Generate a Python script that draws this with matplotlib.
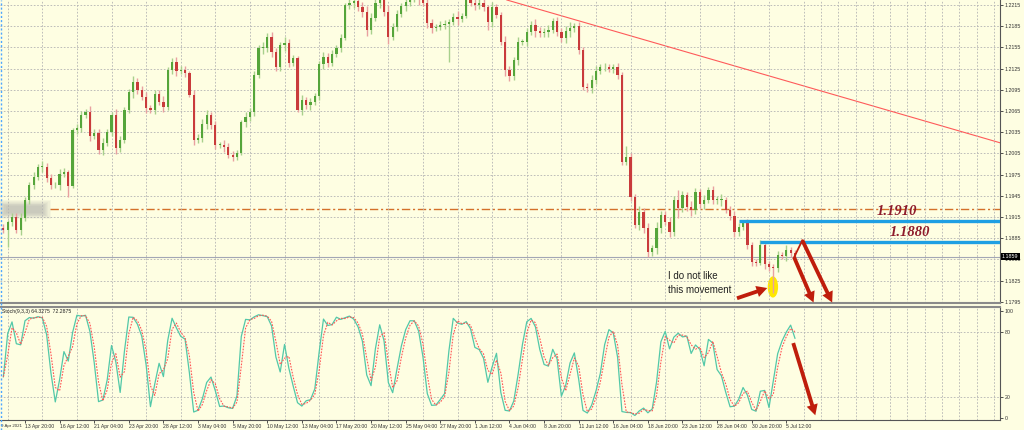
import numpy as np
import pandas as pd
import matplotlib
matplotlib.use('Agg')
import matplotlib.pyplot as plt
from matplotlib.patches import Ellipse, FancyArrowPatch, Rectangle
from matplotlib.lines import Line2D
import matplotlib.transforms as mtransforms

plt.rcParams['font.family'] = ['Liberation Sans', 'DejaVu Sans']

# EURUSD, one candle = 8 hours, closes in pips above 1.1800
first_bar = 3
first_open_pips = 100
close_pips = [
    97, 108, 115, 97, 114, 139, 160, 172, 186, 186, 170, 160, 160, 176, 179, 159,
    238, 241, 259, 264, 230, 234, 210, 220, 235, 259, 213, 224, 266, 292, 306, 295,
    285, 269, 266, 289, 278, 271,
    323, 334, 322, 323, 319, 288, 224, 227, 247, 259, 245, 217, 217, 214, 203, 200,
    206, 249, 256, 264,
    316, 354, 354, 370, 348, 327, 358, 361, 333, 340, 266, 280, 273, 278, 286, 331,
    341, 333, 346, 354, 368,
    415, 418, 421, 412, 405, 380, 397, 418, 425, 405, 370, 384, 402, 414, 419, 425,
    426, 423, 418,
    389, 382, 384, 387, 388, 391, 398, 395, 399, 422, 418, 415, 418, 412, 391, 412, 401,
    363, 323, 314, 337, 363, 363, 377, 387, 378, 375, 377, 380, 392, 377, 368, 378,
    382, 385,
    351, 299, 297, 309, 322, 327, 327, 324, 327, 316,
    193, 200, 143, 104, 122, 99, 65, 71, 99, 118, 108, 94,
    139, 128, 146, 129, 125, 150, 133, 139, 153, 139, 139, 139, 125, 116, 94, 101, 106,
    75, 51, 50, 75, 48, 44, 43, 61, 60, 68, 64, 59,
]
wick_pips = [
    5, 4, 6, 5, 7, 4, 5, 6, 4, 8, 5, 6, 4, 7, 5, 6,
    3, 5, 6, 4, 8, 5, 6, 7, 4, 5, 9, 6, 5, 4, 8, 6,
    5, 7, 4, 6, 5, 8, 4, 6, 7, 5, 6, 3, 7, 5, 6, 8,
    5, 6, 4, 7, 5, 6, 4, 3, 7, 5, 6, 4, 8, 5, 7, 6,
    5, 8, 6, 4, 3, 7, 5, 6, 4, 5, 7, 6, 5, 4, 6, 3,
    6, 8, 5, 7, 9, 6, 5, 7, 6, 10, 5, 6, 4, 7, 5, 6,
    8, 5, 7, 6, 4, 5, 6, 7, 5, 8, 4, 6, 5, 7, 6, 5,
    6, 7, 5, 4, 8, 6, 5, 7, 4, 6, 5, 8, 6, 5, 7, 4,
    6, 5, 7, 9, 5, 6, 4, 5, 7, 6, 5, 6, 4, 5, 6, 4,
    5, 6, 4, 8, 6, 7, 5, 9, 6, 5, 7, 6, 14, 6, 5, 8,
    6, 5, 7, 4, 6, 5, 8, 4, 5, 7, 6, 4, 6, 5, 4, 5,
    6, 5, 4, 6, 5, 7, 5, 4,
]
# candle index: (upper wick, lower wick) in pips
long_wicks = {4: (3, 25), 18: (3, 16), 106: (4, 54), 110: (10, 3), 115: (3, 12),
              147: (15, 4), 178: (7, 3), 181: (4, 36)}

date_labels = ['9 Apr 2021', '13 Apr 20:00', '16 Apr 12:00', '21 Apr 04:00', '23 Apr 20:00',
               '28 Apr 12:00', '3 May 04:00', '5 May 20:00', '10 May 12:00', '13 May 04:00',
               '17 May 20:00', '20 May 12:00', '25 May 04:00', '27 May 20:00', '1 Jun 12:00',
               '4 Jun 04:00', '8 Jun 20:00', '11 Jun 12:00', '16 Jun 04:00', '18 Jun 20:00',
               '23 Jun 12:00', '28 Jun 04:00', '30 Jun 20:00', '5 Jul 12:00']
price_ticks = np.round(np.arange(1.1795, 1.2216, 0.0030), 4)

levels = [1.1910, 1.1880]
level_start = [173, 178]
last_price = 1.1859
dashdot_level = 1.1926
trend_pts = [(119.4, 1.2222), (233.4, 1.2020)]

BG = '#fefee2'
GREEN, RED = '#55a53a', '#c93b3b'
GREEN_W, RED_W = '#a8d08c', '#e9a0a0'
ARROW = '#bf1d0b'

close = 1.18 + np.array(close_pips) / 10000.0
opens = np.concatenate([[1.18 + first_open_pips / 10000.0], close[:-1]])
idx = np.arange(first_bar, first_bar + len(close))
w_up = np.array(wick_pips, dtype=float)
w_dn = np.array(wick_pips, dtype=float)
for k, (u, d) in long_wicks.items():
    w_up[k - first_bar] = u
    w_dn[k - first_bar] = d
high = np.maximum(opens, close) + w_up / 10000.0
low = np.minimum(opens, close) - w_dn / 10000.0
bull = close >= opens

# stochastic (periods scaled to 8h candles); short windows at the start
kp, slow, dp = 5, 2, 2
n = len(close)
num = np.zeros(n)
den = np.zeros(n)
for i in range(n):
    j = max(0, i - kp + 1)
    ll = low[j:i + 1].min()
    hh = high[j:i + 1].max()
    num[i] = close[i] - ll
    den[i] = hh - ll
stoch_main = np.zeros(n)
for i in range(n):
    j = max(0, i - slow + 1)
    stoch_main[i] = num[j:i + 1].sum() / den[j:i + 1].sum() * 100
stoch_sig = pd.Series(stoch_main).rolling(dp, min_periods=1).mean().values

fig = plt.figure(figsize=(10.24, 4.30), dpi=100, facecolor=BG)
ax = fig.add_axes([0, 1 - 303 / 430, 1000 / 1024, 303 / 430])
ax2 = fig.add_axes([0, 10 / 430, 1000 / 1024, 113 / 430], sharex=ax)
xlim = (2.22, 233.4)

for a in (ax, ax2):
    a.set_facecolor(BG)
    a.set_xticks(np.arange(4, 236, 4), minor=True)
    a.grid(True, which='minor', axis='x', color='#b3b3b3', lw=0.6, ls=(0, (2, 2)))
    a.yaxis.tick_right()
    a.tick_params(axis='y', labelsize=3.8, pad=1.5, length=2, width=0.6, colors='#333333')
    for s in ('left', 'top'):
        a.spines[s].set_visible(False)
    a.spines['right'].set_color('#555555')

# main price panel
ax.set_ylim(1.17933, 1.2222)
ax.set_yticks(price_ticks)
ax.set_yticklabels([f'{p:.4f}' for p in price_ticks])
for p in price_ticks:
    ax.axhline(p, color='#b3b3b3', lw=0.6, ls=(0, (2, 2)), zorder=0)
ax.tick_params(axis='x', which='both', bottom=False, labelbottom=False)
ax.spines['bottom'].set_color('#8a8a8a')
ax.spines['bottom'].set_linewidth(1.5)

ax.axhline(last_price, color='#a3a7b5', lw=0.8, zorder=1)
ax.text(1.002, last_price, '1.1859', transform=mtransforms.blended_transform_factory(ax.transAxes, ax.transData),
        fontsize=3.8, color='white', ha='left', va='center', clip_on=False,
        bbox=dict(fc='black', ec='none', pad=0.8))

ax.hlines(dashdot_level, 13.8, xlim[1], color='#d4702a', lw=1, ls=(0, (6, 2, 1.5, 2)), zorder=1)
# blurred (hidden) label at the left end of the dash-dot line
for grow in np.linspace(2.0, 0, 8):
    ax.add_patch(Rectangle((3.5 - grow, 1.19205 - grow * 0.0004), 8.5 + 2 * grow,
                           0.0010 + grow * 0.0008, fc='#9a9a9a', ec='none', alpha=0.08, zorder=1))

ax.axline(trend_pts[0], trend_pts[1], color='#ff5a5a', lw=0.8, zorder=1)

ax.add_patch(Ellipse((180.9, 1.1816), width=2.4, height=0.0030, fc='#ffe800', ec='none', zorder=1.5))

ax.vlines(idx[bull], low[bull], high[bull], color=GREEN_W, lw=1, zorder=2)
ax.vlines(idx[~bull], low[~bull], high[~bull], color=RED_W, lw=1, zorder=2)
body = np.maximum(np.abs(close - opens), 0.00008)
ax.bar(idx, body, bottom=np.minimum(opens, close), width=0.52,
       color=np.where(bull, GREEN, RED), edgecolor='none', zorder=3)

for lv, st in zip(levels, level_start):
    ax.hlines(lv, st, xlim[1], color='#1e9fe3', lw=2.4, zorder=4)
ax.text(205.0, 1.19135, '1.1910', fontsize=10.5, family='Liberation Serif', weight='bold',
        style='italic', color='#8e1b2b', va='bottom', ha='left', zorder=5)
ax.text(207.8, 1.18835, '1.1880', fontsize=10.5, family='Liberation Serif', weight='bold',
        style='italic', color='#8e1b2b', va='bottom', ha='left', zorder=5)

ax.text(156.7, 1.1822, 'I do not like\nthis movement', fontsize=7, color='#222222',
        va='center', ha='left', linespacing=1.45, zorder=5)

arrow_style = 'simple,head_length=0.7,head_width=0.75,tail_width=0.25'
ax.plot([185.8, 187.7], [1.1858, 1.1882], color=ARROW, lw=1.3, zorder=6)
for a_from, a_to in [((187.7, 1.1882), (194.6, 1.1794)),
                     ((185.8, 1.1858), (190.3, 1.1794)),
                     ((172.6, 1.1800), (179.6, 1.18145))]:
    ax.add_patch(FancyArrowPatch(a_from, a_to, arrowstyle=arrow_style, mutation_scale=11,
                                 color=ARROW, lw=0, zorder=6, clip_on=False,
                                 shrinkA=0, shrinkB=0))

# stochastic panel
ax2.set_ylim(-1.9, 103.7)
ax2.set_yticks([0, 20, 80, 100])
ax2.set_yticklabels(['0', '20', '80', '100'])
for lv in (20, 80):
    ax2.axhline(lv, color='#b3b3b3', lw=0.6, ls=(0, (2, 2)), zorder=0)
ax2.spines['top'].set_visible(True)
ax2.spines['top'].set_color('#8a8a8a')
ax2.spines['top'].set_linewidth(1.5)
ax2.spines['bottom'].set_color('#555555')
ax2.set_xticks(np.arange(8, 8 * len(date_labels), 8))
ax2.set_xticklabels(date_labels[1:], ha='left')
ax2.tick_params(axis='x', which='major', labelsize=3.7, pad=0.8, length=2, width=0.6, colors='#333333')
ax2.tick_params(axis='x', which='minor', length=0)
ax2.text(0.001, -0.035, date_labels[0], transform=ax2.transAxes, fontsize=3.2,
         color='#333333', ha='left', va='top')
ax2.plot(idx, stoch_main, color='#52c8a8', lw=0.9, zorder=3)
ax2.plot(idx, stoch_sig, color='#ff5555', lw=0.8, ls=(0, (1.5, 1.2)), zorder=3)
ax2.add_patch(FancyArrowPatch((185.6, 70), (190.7, 2.5), arrowstyle=arrow_style, mutation_scale=11,
                              color=ARROW, lw=0, zorder=6, clip_on=False, shrinkA=0, shrinkB=0))
ax.set_xlim(*xlim)

fig.text(1.5 / 1024, 1 - 311 / 430, 'Stoch(9,3,3) 64.3275  72.2875', fontsize=3.7,
         color='#222222', va='center', ha='left')
fig.add_artist(Line2D([0.6 / 1024, 0.6 / 1024], [0, 1], color='#4da6ff', lw=1,
                      ls=(0, (1.5, 1.5)), transform=fig.transFigure))

fig.savefig('out.png', dpi=100, facecolor=BG)
